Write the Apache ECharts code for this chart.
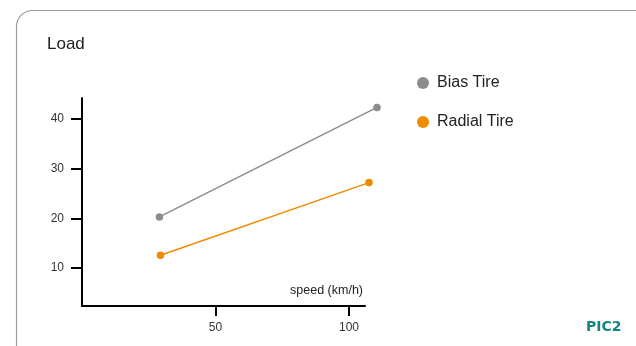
<!DOCTYPE html>
<html>
<head>
<meta charset="utf-8">
<script src="https://cdn.jsdelivr.net/npm/echarts@6/dist/echarts.min.js"></script>
<style>
html,body{margin:0;padding:0;background:#fff;}
#c{width:636px;height:346px;}
</style>
</head>
<body>
<div id="c"></div>
<script>
var seriesNames = ['Bias Tire', 'Radial Tire'];
var biasData = [[29, 20.3], [110.5, 42.3]];
var radialData = [[29.4, 12.6], [107.5, 27.2]];
var yTicks = [10, 20, 30, 40];
var xTicks = [50, 100];
var colors = ['#8c8c8c', '#f08a00'];

var chart = echarts.init(document.getElementById('c'), null, {renderer: 'canvas'});
var font = 'Liberation Sans, Arial, sans-serif';
var xMaxVisible = 106, xMaxData = 112;
var gridLeft = 82, gridTop = 98, gridW = 283, gridH = 208;
chart.setOption({
  animation: false,
  color: colors,
  graphic: [
    {type: 'rect', shape: {x: 16.5, y: 10.5, width: 660, height: 360, r: 16},
     style: {fill: 'none', stroke: '#9a9a9a', lineWidth: 1.2}, z: -1},
    {type: 'text', x: 586, y: 327,
     style: {text: 'PIC2', fill: '#12867f', font: 'bold 14px "DejaVu Sans", sans-serif', verticalAlign: 'middle'}}
  ],
  title: {
    text: 'Load', left: 42, top: 31,
    textStyle: {fontFamily: font, fontSize: 17, fontWeight: 'normal', color: '#222'}
  },
  legend: {
    orient: 'vertical', left: 412, top: 70,
    icon: 'circle', itemWidth: 12, itemHeight: 12, itemGap: 23,
    textStyle: {fontFamily: font, fontSize: 16, color: '#222', padding: [0,0,0,3]},
    data: seriesNames
  },
  grid: [
    {left: gridLeft, top: gridTop, width: gridW, height: gridH, containLabel: false},
    {left: gridLeft, top: gridTop, width: gridW * xMaxData / xMaxVisible, height: gridH, containLabel: false}
  ],
  xAxis: [{
    type: 'value', min: 0, max: xMaxVisible, gridIndex: 0,
    name: 'speed (km/h)', nameLocation: 'end', nameGap: -2,
    nameTextStyle: {fontFamily: font, fontSize: 12.5, color: '#222', align: 'right', verticalAlign: 'bottom', padding: [0,0,9,0]},
    axisLine: {show: true, lineStyle: {color: '#000', width: 2}},
    axisTick: {show: true, length: 10, lineStyle: {color: '#000', width: 2}, customValues: xTicks},
    axisLabel: {fontFamily: font, fontSize: 12, color: '#333', margin: 16, customValues: xTicks},
    splitLine: {show: false}
  }, {
    type: 'value', min: 0, max: xMaxData, gridIndex: 1, show: false, splitLine: {show: false}
  }],
  yAxis: [{
    type: 'value', min: 2.4, max: 44.2, gridIndex: 0,
    axisLine: {show: true, lineStyle: {color: '#000', width: 2}},
    axisTick: {show: true, length: 11, lineStyle: {color: '#000', width: 2}, customValues: yTicks},
    axisLabel: {fontFamily: font, fontSize: 12, color: '#333', margin: 18, customValues: yTicks},
    splitLine: {show: false}
  }, {
    type: 'value', min: 2.4, max: 44.2, gridIndex: 1, show: false, splitLine: {show: false}
  }],
  series: [
    {name: seriesNames[0], type: 'line', data: biasData, xAxisIndex: 1, yAxisIndex: 1,
     symbol: 'circle', symbolSize: 7.5, lineStyle: {width: 1.5}},
    {name: seriesNames[1], type: 'line', data: radialData, xAxisIndex: 1, yAxisIndex: 1,
     symbol: 'circle', symbolSize: 7.5, lineStyle: {width: 1.5}}
  ]
});
</script>
</body>
</html>
